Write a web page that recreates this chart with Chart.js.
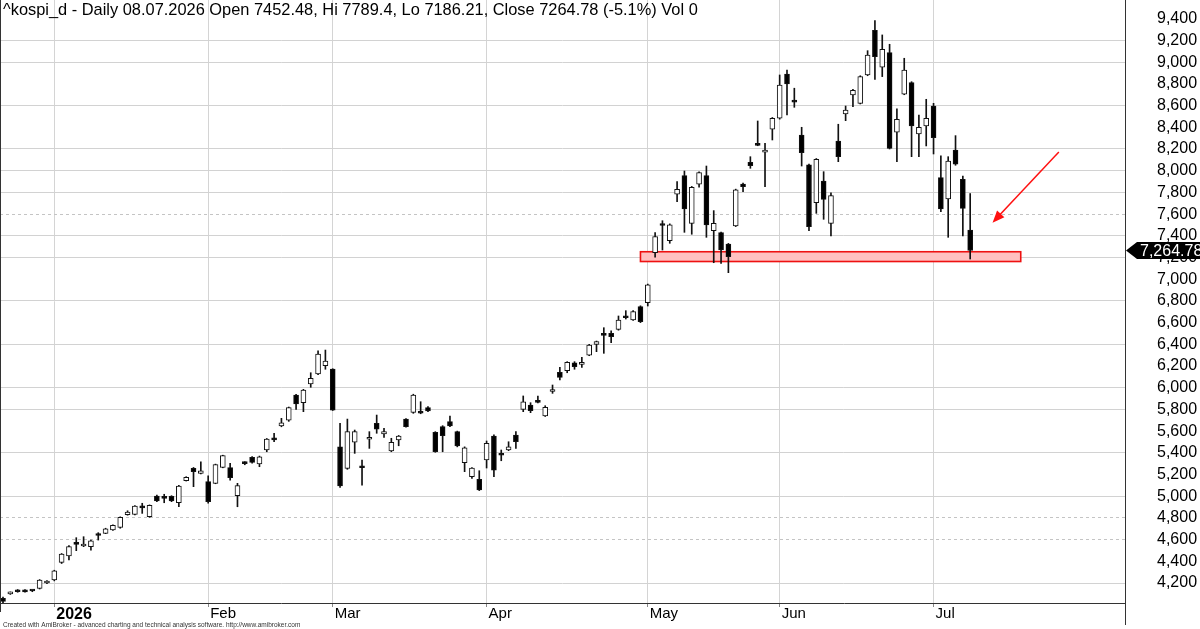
<!DOCTYPE html>
<html>
<head>
<meta charset="utf-8">
<script src="https://cdn.jsdelivr.net/npm/chart.js@4.4.1/dist/chart.umd.min.js"></script>
<style>
  html, body { margin: 0; padding: 0; background: #fff; }
  #wrap { width: 1200px; height: 629px; position: relative; }
</style>
</head>
<body>
<div id="wrap"><canvas id="chart"></canvas></div>
<script>
// trading days shown on the chart
const days = [
  '2025-12-19','2025-12-22','2025-12-23','2025-12-24','2025-12-26','2025-12-29','2025-12-30',
  '2026-01-02','2026-01-05','2026-01-06','2026-01-07','2026-01-08','2026-01-09','2026-01-12','2026-01-13','2026-01-14','2026-01-15','2026-01-16',
  '2026-01-19','2026-01-20','2026-01-21','2026-01-22','2026-01-23','2026-01-26','2026-01-27','2026-01-28','2026-01-29','2026-01-30',
  '2026-02-02','2026-02-03','2026-02-04','2026-02-05','2026-02-06','2026-02-09','2026-02-10','2026-02-11','2026-02-12','2026-02-13',
  '2026-02-19','2026-02-20','2026-02-23','2026-02-24','2026-02-25','2026-02-26','2026-02-27',
  '2026-03-03','2026-03-04','2026-03-05','2026-03-06','2026-03-09','2026-03-10','2026-03-11','2026-03-12','2026-03-13','2026-03-16','2026-03-17',
  '2026-03-18','2026-03-19','2026-03-20','2026-03-23','2026-03-24','2026-03-25','2026-03-26','2026-03-27','2026-03-30','2026-03-31',
  '2026-04-01','2026-04-02','2026-04-03','2026-04-06','2026-04-07','2026-04-08','2026-04-09','2026-04-10','2026-04-13','2026-04-14','2026-04-15',
  '2026-04-16','2026-04-17','2026-04-20','2026-04-21','2026-04-22','2026-04-23','2026-04-24','2026-04-27','2026-04-28','2026-04-29','2026-04-30',
  '2026-05-04','2026-05-06','2026-05-07','2026-05-08','2026-05-11','2026-05-12','2026-05-13','2026-05-14','2026-05-15','2026-05-18','2026-05-19',
  '2026-05-20','2026-05-21','2026-05-22','2026-05-26','2026-05-27','2026-05-28','2026-05-29',
  '2026-06-01','2026-06-02','2026-06-04','2026-06-05','2026-06-08','2026-06-09','2026-06-10','2026-06-11','2026-06-12','2026-06-15','2026-06-16',
  '2026-06-17','2026-06-18','2026-06-19','2026-06-22','2026-06-23','2026-06-24','2026-06-25','2026-06-26','2026-06-29','2026-06-30',
  '2026-07-01','2026-07-02','2026-07-03','2026-07-06','2026-07-07','2026-07-08'
];

const open = [
  4060,4100,4135,4138,4131,4151,4200,4228,4390,4450,
  4575,4541,4535,4645,4658,4690,4713,4830,4833,4900,
  4811,5002,4990,5000,4940,5143,5257,5211,5134,5119,
  5266,5263,5005,5305,5359,5297,5426,5525,5647,5702,
  5933,5862,6034,6126,6203,6172,5456,5257,5497,5270,
  5525,5672,5575,5417,5518,5711,5773,5775,5816,5589,
  5641,5687,5595,5309,5180,5156,5334,5555,5385,5426,
  5564,5801,5841,5877,5739,5965,6142,6157,6230,6215,
  6301,6400,6490,6501,6538,6652,6624,6747,6783,7244,
  7510,7355,7783,7954,7515,7875,7954,7447,7429,7324,
  7490,7877,8078,8240,8170,8382,8483,8891,8640,8329,
  8053,7705,7905,7515,8274,8523,8698,8621,8882,9293,
  8953,9088,8354,8705,8812,8338,8412,8596,7936,7739,
  8191,7921,7452.48
];
const high = [
  4070,4118,4140,4140,4135,4232,4222,4318,4472,4545,
  4618,4627,4595,4664,4705,4736,4810,4866,4914,4935,
  4920,5010,5018,5005,5100,5180,5265,5318,5189,5296,
  5378,5303,5119,5318,5365,5370,5532,5580,5718,5822,
  5940,5985,6138,6341,6347,6175,5672,5711,5610,5334,
  5595,5748,5626,5534,5560,5715,5940,5871,5825,5595,
  5650,5739,5600,5455,5265,5235,5509,5565,5426,5502,
  5595,5924,5862,5924,5834,6025,6188,6240,6240,6280,
  6400,6430,6553,6525,6661,6710,6710,6755,6955,7429,
  7539,7510,7899,7997,7855,7990,8043,7632,7435,7330,
  7830,7885,8129,8458,8253,8490,8882,8928,8760,8400,
  8060,8112,7991,7797,8428,8596,8750,8875,9106,9383,
  9251,9165,8569,9036,8820,8513,8658,8621,8136,8129,
  8323,7951,7789.4
];
const low = [
  4020,4095,4115,4115,4120,4145,4195,4220,4380,4412,
  4498,4535,4504,4596,4655,4686,4705,4825,4828,4842,
  4805,4950,4940,4950,4903,5140,5088,5205,4935,5115,
  5262,5149,4903,5290,5305,5272,5410,5502,5640,5690,
  5801,5779,6004,6120,6170,5790,5082,5248,5395,5103,
  5441,5580,5543,5410,5465,5636,5764,5760,5780,5405,
  5410,5640,5455,5226,5165,5052,5260,5180,5327,5420,
  5441,5779,5770,5860,5735,5948,6071,6138,6170,6188,
  6295,6332,6317,6415,6530,6633,6620,6600,6753,7202,
  7269,7331,7714,7432,7414,7847,7386,7152,7146,7060,
  7485,7807,8022,8230,7853,8283,8475,8513,8584,8043,
  7447,7607,7552,7398,8083,8461,8590,8615,8875,8842,
  8867,8200,8083,8700,8129,8129,8228,8154,7622,7386,
  8050,7398,7186.21
];
const close = [
  4030,4112,4120,4118,4127,4228,4218,4313,4467,4535,
  4555,4559,4590,4638,4700,4732,4806,4854,4910,4892,
  4916,4956,4980,4956,5094,5174,5226,5235,4950,5291,
  5374,5171,5097,5300,5312,5364,5527,5520,5677,5818,
  5850,5979,6087,6311,6246,5794,5094,5595,5595,5262,
  5543,5617,5595,5497,5555,5641,5933,5765,5785,5410,
  5558,5647,5463,5447,5260,5057,5488,5241,5378,5456,
  5502,5871,5788,5865,5819,5972,6096,6234,6194,6222,
  6394,6424,6482,6470,6624,6645,6701,6608,6947,7392,
  7495,7500,7829,7647,7847,7982,7500,7515,7269,7207,
  7824,7853,8046,8233,8191,8483,8790,8799,8632,8166,
  7484,8105,7736,7770,8129,8559,8740,8867,9066,9051,
  9119,8206,8474,8928,8412,8400,8483,8304,7647,8089,
  8059,7653,7264.78
];

// axis labels
const monthLabels = ['2026', 'Feb', 'Mar', 'Apr', 'May', 'Jun', 'Jul'];
const priceTicks = [4200,4400,4600,4800,5000,5200,5400,5600,5800,6000,6200,6400,6600,6800,
  7000,7200,7400,7600,7800,8000,8200,8400,8600,8800,9000,9200,9400];
const solidGrid = [4200,5000,5400,5800,6000,6400,6800,7200,7400,7800,8000,8200,8600,9000,9200];
const dottedGrid = [4600,4800,7600];

// support zone and arrow, in bar index / price units
const zone = { from: 87.0, to: 138.9, low: 7163, high: 7253 };
const arrow = { fromX: 144.1, fromY: 8172, toX: 135.05, toY: 7521 };

const titleText = '^kospi_d - Daily 08.07.2026 Open 7452.48, Hi 7789.4, Lo 7186.21, Close 7264.78 (-5.1%) Vol 0';
const footerText = 'Created with AmiBroker - advanced charting and technical analysis software. http://www.amibroker.com';

const FONT = '"Liberation Sans", Arial, sans-serif';

const monthStarts = [];
days.forEach((d, i) => {
  if (i > 0 && d.slice(0, 7) !== days[i - 1].slice(0, 7)) monthStarts.push(i);
});

const bodies = days.map((d, i) => ({ x: i, y: [Math.min(open[i], close[i]), Math.max(open[i], close[i])] }));
const wicks = days.map((d, i) => ({ x: i, y: [low[i], high[i]] }));
const bodyColors = days.map((d, i) => close[i] >= open[i] ? '#ffffff' : '#000000');

const decor = {
  id: 'decor',
  beforeDraw(chart) {
    const ctx = chart.ctx;
    ctx.save();
    ctx.fillStyle = '#fff';
    ctx.fillRect(0, 0, chart.width, chart.height);
    ctx.restore();
  },
  beforeDatasetsDraw(chart) {
    const { ctx, scales: { x, y } } = chart;
    const x1 = x.getPixelForValue(zone.from), x2 = x.getPixelForValue(zone.to);
    const y1 = y.getPixelForValue(zone.high), y2 = y.getPixelForValue(zone.low);
    ctx.save();
    ctx.fillStyle = '#ffc0c0';
    ctx.fillRect(x1, y1, x2 - x1, y2 - y1);
    ctx.strokeStyle = '#ee1111';
    ctx.lineWidth = 1.6;
    ctx.strokeRect(x1, y1, x2 - x1, y2 - y1);
    ctx.restore();
  },
  afterDraw(chart) {
    const { ctx, chartArea: a, scales: { x, y } } = chart;
    ctx.save();

    // frame lines
    ctx.strokeStyle = '#333';
    ctx.lineWidth = 1;
    ctx.beginPath();
    ctx.moveTo(a.left + 0.5, 0); ctx.lineTo(a.left + 0.5, 612);
    ctx.moveTo(a.right + 0.5, a.bottom); ctx.lineTo(a.right + 0.5, 625);
    ctx.stroke();

    // arrow
    const ax1 = x.getPixelForValue(arrow.fromX), ay1 = y.getPixelForValue(arrow.fromY);
    const ax2 = x.getPixelForValue(arrow.toX), ay2 = y.getPixelForValue(arrow.toY);
    const ang = Math.atan2(ay2 - ay1, ax2 - ax1);
    ctx.strokeStyle = '#ff1010';
    ctx.fillStyle = '#ff1010';
    ctx.lineWidth = 1.5;
    ctx.beginPath();
    ctx.moveTo(ax1, ay1);
    ctx.lineTo(ax2 - 8 * Math.cos(ang), ay2 - 8 * Math.sin(ang));
    ctx.stroke();
    ctx.beginPath();
    ctx.moveTo(ax2, ay2);
    ctx.lineTo(ax2 - 12 * Math.cos(ang) + 5 * Math.sin(ang), ay2 - 12 * Math.sin(ang) - 5 * Math.cos(ang));
    ctx.lineTo(ax2 - 12 * Math.cos(ang) - 5 * Math.sin(ang), ay2 - 12 * Math.sin(ang) + 5 * Math.cos(ang));
    ctx.closePath();
    ctx.fill();

    // last price tag
    const last = close[close.length - 1];
    const ty = y.getPixelForValue(last);
    const tx = a.right + 1;
    ctx.fillStyle = '#000';
    ctx.beginPath();
    ctx.moveTo(tx, ty);
    ctx.lineTo(tx + 11, ty - 8.5);
    ctx.lineTo(chart.width, ty - 8.5);
    ctx.lineTo(chart.width, ty + 8.5);
    ctx.lineTo(tx + 11, ty + 8.5);
    ctx.closePath();
    ctx.fill();
    ctx.fillStyle = '#fff';
    ctx.font = '16px ' + FONT;
    ctx.textBaseline = 'middle';
    ctx.textAlign = 'left';
    ctx.fillText(last.toLocaleString('en-US', { minimumFractionDigits: 2 }), tx + 14, ty + 1);

    // title
    ctx.fillStyle = '#000';
    ctx.textBaseline = 'top';
    ctx.font = '16.4px ' + FONT;
    ctx.fillText(titleText, 3, 2);

    // footer
    ctx.fillStyle = '#333';
    ctx.textBaseline = 'alphabetic';
    ctx.font = '6.5px ' + FONT;
    ctx.fillText(footerText, 3, 627);

    ctx.restore();
  }
};

new Chart(document.getElementById('chart'), {
  type: 'bar',
  data: {
    datasets: [
      {
        label: 'body',
        data: bodies,
        order: 0,
        grouped: false,
        barThickness: 5,
        minBarLength: 2,
        backgroundColor: bodyColors,
        borderColor: '#111',
        borderWidth: 1,
        borderSkipped: false,
        clip: false
      },
      {
        label: 'wick',
        data: wicks,
        order: 1,
        grouped: false,
        barThickness: 1,
        backgroundColor: '#111',
        borderWidth: 0,
        clip: false
      }
    ]
  },
  options: {
    responsive: true,
    maintainAspectRatio: false,
    animation: false,
    layout: { padding: 0 },
    plugins: { legend: { display: false }, tooltip: { enabled: false } },
    scales: {
      x: {
        type: 'linear',
        min: -0.41,
        max: 153.13,
        offset: false,
        afterBuildTicks: s => { s.ticks = monthStarts.map(v => ({ value: v })); },
        afterFit: s => { s.height = 26; s.paddingLeft = 0; s.paddingRight = 0; },
        grid: { offset: false, color: '#d4d4d4', drawTicks: true, tickLength: 4, tickColor: '#888' },
        border: { color: '#333' },
        ticks: {
          autoSkip: false,
          maxRotation: 0,
          minRotation: 0,
          align: 'start',
          labelOffset: 2,
          padding: -2,
          color: '#000',
          font: ctx => ({ family: FONT, size: ctx.index === 0 ? 16 : 15, weight: ctx.index === 0 ? 'bold' : 'normal' }),
          callback: (v, i) => monthLabels[i]
        }
      },
      y: {
        type: 'linear',
        position: 'right',
        min: 4016,
        max: 9573,
        afterBuildTicks: s => { s.ticks = priceTicks.map(v => ({ value: v })); },
        afterFit: s => { s.width = 75; s.paddingTop = 0; s.paddingBottom = 0; },
        grid: {
          drawTicks: false,
          color: ctx => {
            const v = ctx.tick && ctx.tick.value;
            if (solidGrid.includes(v)) return '#d2d2d2';
            if (dottedGrid.includes(v)) return '#c4c4c4';
            return 'rgba(0,0,0,0)';
          }
        },
        border: {
          color: '#333',
          dash: ctx => (ctx.tick && dottedGrid.includes(ctx.tick.value)) ? [3, 3] : []
        },
        ticks: {
          padding: 32,
          color: '#000',
          font: { family: FONT, size: 16 },
          callback: v => v.toLocaleString('en-US')
        }
      }
    }
  },
  plugins: [decor]
});
</script>
</body>
</html>
